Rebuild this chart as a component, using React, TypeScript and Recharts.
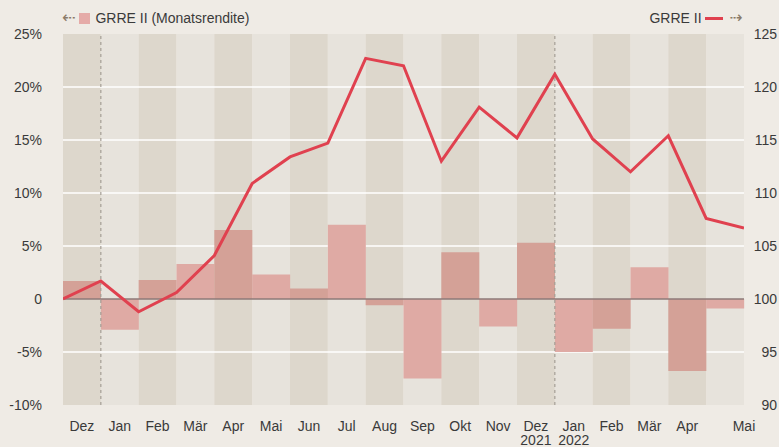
import React from 'react'
import {
  ComposedChart,
  Bar,
  Cell,
  Line,
  XAxis,
  YAxis,
  ReferenceArea,
  ReferenceLine,
} from 'recharts'

// monthly periods (bars) and the month labels shown below them
const periods = [
  '2020-12', '2021-01', '2021-02', '2021-03', '2021-04', '2021-05', '2021-06', '2021-07', '2021-08',
  '2021-09', '2021-10', '2021-11', '2021-12', '2022-01', '2022-02', '2022-03', '2022-04', '2022-05',
]
const monthLabels = ['Dez', 'Jan', 'Feb', 'Mär', 'Apr', 'Mai', 'Jun', 'Jul', 'Aug', 'Sep', 'Okt', 'Nov', 'Dez', 'Jan', 'Feb', 'Mär', 'Apr', 'Mai']
const yearLabels = ['', '', '', '', '', '', '', '', '', '', '', '', '2021', '2022', '', '', '', '']

// GRRE II monthly return in %
const monthlyReturns = [1.7, -2.9, 1.8, 3.3, 6.5, 2.3, 1.0, 7.0, -0.6, -7.5, 4.4, -2.6, 5.3, -5.0, -2.8, 3.0, -6.8, -0.9]

// GRRE II indexed performance (start = 100), one point per month end
const indexValues = [100, 101.7, 98.8, 100.6, 104.1, 110.9, 113.4, 114.7, 122.7, 122.0, 113.0, 118.1, 115.2, 121.2, 115.1, 112.0, 115.4, 107.6, 106.7]

const leftTicks = [-10, -5, 0, 5, 10, 15, 20, 25]
const rightTicks = [90, 95, 100, 105, 110, 115, 120, 125]
const gridValues = [-5, 5, 10, 15, 20]
const yearBreaks = [1, 13]

const barData = periods.map((p, i) => ({ period: p, ret: monthlyReturns[i] }))
const lineData = indexValues.map((v, i) => ({ idx: i, value: v }))

const FONT = '"Liberation Sans", Arial, Helvetica, sans-serif'
const TEXT = '#3a3a3a'
const RED = '#e0414f'
const ARROW = '#8a7a68'
const DARK_BAND = '#ddd7cc'
const LIGHT_BAND = '#e7e3dc'

const LeftTick = (props: any) => {
  const v = props.payload.value
  return (
    <text x={42} y={props.y + 5} textAnchor="end" fontSize={14} fontFamily={FONT} fill={TEXT}>
      {v === 0 ? '0' : `${v}%`}
    </text>
  )
}

const RightTick = (props: any) => (
  <text x={777} y={props.y + 5} textAnchor="end" fontSize={14} fontFamily={FONT} fill={TEXT}>
    {props.payload.value}
  </text>
)

const MonthTick = (props: any) => {
  const i = props.index
  // last label sits at the end of the period
  const x = i === periods.length - 1 ? props.x + 18.9 : props.x
  return (
    <g>
      <text x={x} y={431} textAnchor="middle" fontSize={14} fontFamily={FONT} fill={TEXT}>
        {monthLabels[i]}
      </text>
      {yearLabels[i] && (
        <text x={x} y={445} textAnchor="middle" fontSize={14} fontFamily={FONT} fill={TEXT}>
          {yearLabels[i]}
        </text>
      )}
    </g>
  )
}

export default function App() {
  return (
    <div style={{ position: 'absolute', left: 0, top: 0, width: 779, height: 447, background: '#efebe5', fontFamily: FONT }}>
      <div style={{ position: 'absolute', left: 62, top: 9, display: 'flex', alignItems: 'center', fontSize: 14, color: TEXT, lineHeight: '18px' }}>
        <span style={{ fontFamily: 'DejaVu Sans', color: ARROW, fontSize: 16, marginRight: 4 }}>⇠</span>
        <span style={{ display: 'inline-block', width: 11, height: 11, background: '#e5aba8', marginRight: 5 }} />
        <span>GRRE II (Monatsrendite)</span>
      </div>
      <div style={{ position: 'absolute', right: 36, top: 9, display: 'flex', alignItems: 'center', fontSize: 14, color: TEXT, lineHeight: '18px' }}>
        <span>GRRE II</span>
        <span style={{ display: 'inline-block', width: 18, height: 3, background: RED, marginLeft: 3, marginRight: 7 }} />
        <span style={{ fontFamily: 'DejaVu Sans', color: ARROW, fontSize: 16 }}>⇢</span>
      </div>
      <div style={{ position: 'absolute', left: 0, top: 0 }}>
        <ComposedChart
          width={779}
          height={447}
          data={barData}
          margin={{ top: 34, right: 0, bottom: 0, left: 0 }}
          barCategoryGap={0}
          barGap={0}
        >
          <XAxis
            dataKey="period"
            height={42}
            axisLine={false}
            tickLine={false}
            interval={0}
            tick={<MonthTick />}
          />
          <XAxis xAxisId="idx" type="number" dataKey="idx" domain={[0, 18]} hide allowDataOverflow />
          <YAxis
            yAxisId="left"
            domain={[-10, 25]}
            ticks={leftTicks}
            width={63}
            axisLine={false}
            tickLine={false}
            tick={<LeftTick />}
            allowDataOverflow
          />
          <YAxis
            yAxisId="right"
            orientation="right"
            domain={[90, 125]}
            ticks={rightTicks}
            width={35}
            axisLine={false}
            tickLine={false}
            tick={<RightTick />}
            allowDataOverflow
          />

          {periods.map((p, i) => (
            <ReferenceArea
              key={`band-${p}`}
              yAxisId="left"
              x1={p}
              x2={p}
              fill={i % 2 === 0 ? DARK_BAND : LIGHT_BAND}
              fillOpacity={1}
              stroke="none"
              ifOverflow="visible"
              zIndex={50}
            />
          ))}
          {gridValues.map(v => (
            <ReferenceLine key={`grid-${v}`} yAxisId="left" y={v} stroke="#ffffff" strokeWidth={1.5} zIndex={60} />
          ))}

          <Bar dataKey="ret" yAxisId="left" isAnimationActive={false}>
            {barData.map((d, i) => (
              <Cell key={`cell-${i}`} fill={i % 2 === 0 ? '#d4a197' : '#dfaaa4'} />
            ))}
          </Bar>

          <ReferenceLine yAxisId="left" y={0} stroke="#8e7a78" strokeWidth={1.5} zIndex={350} />
          {yearBreaks.map(x => (
            <ReferenceLine
              key={`year-${x}`}
              xAxisId="idx"
              yAxisId="left"
              x={x}
              stroke="#a59e95"
              strokeWidth={1.2}
              strokeDasharray="3 3"
              zIndex={350}
            />
          ))}

          <Line
            data={lineData}
            xAxisId="idx"
            yAxisId="right"
            dataKey="value"
            type="linear"
            stroke={RED}
            strokeWidth={3}
            dot={false}
            activeDot={false}
            isAnimationActive={false}
          />
        </ComposedChart>
      </div>
    </div>
  )
}
